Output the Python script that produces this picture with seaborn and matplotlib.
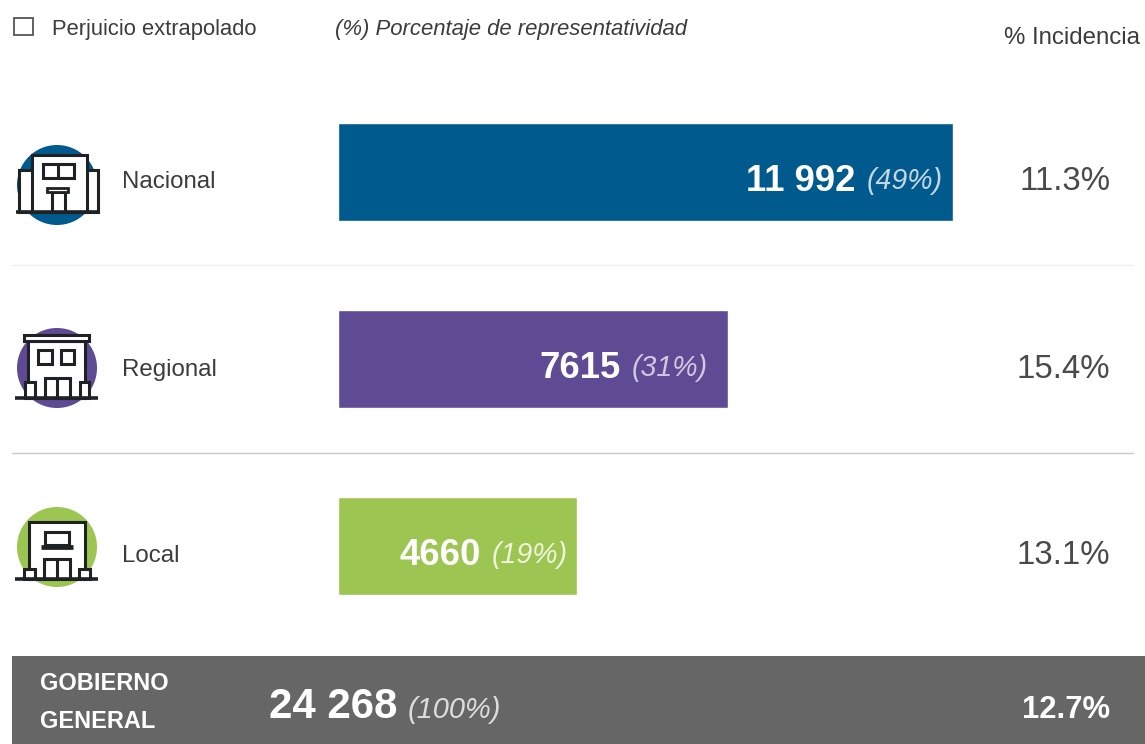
import pandas as pd
import matplotlib
matplotlib.use("Agg")
import matplotlib.pyplot as plt
from matplotlib.patches import Circle, Rectangle
import seaborn as sns

niveles = ["Nacional", "Regional", "Local"]
perjuicio = [11992, 7615, 4660]
perjuicio_txt = ["11 992", "7615", "4660"]
represent = ["(49%)", "(31%)", "(19%)"]
incidencia = ["11.3%", "15.4%", "13.1%"]
colores = ["#005A8E", "#5F4A94", "#9DC551"]
total_titulo = ["GOBIERNO", "GENERAL"]
total_txt = "24 268"
total_rep = "(100%)"
total_inc = "12.7%"

W, H = 1145, 744
NARROW = ["Liberation Sans", "DejaVu Sans"]
WIDE = ["Liberation Sans", "DejaVu Sans"]
GRIS = "#3c3c3c"
LINEA = "#1e2224"


def pt(px):
    return px * 0.72


def caja(ax, x0, y0, x1, y1, lw=2.2, fc="white", z=3):
    ax.add_patch(Rectangle((x0, y0), x1 - x0, y1 - y0, fc=fc, ec=LINEA, lw=lw, zorder=z))


def linea(ax, x0, y0, x1, y1, lw=2.2):
    ax.plot([x0, x1], [y0, y1], color=LINEA, lw=lw, zorder=5, solid_capstyle="butt")


def icono_nacional(ax):
    ax.add_patch(Circle((57, 185), 40, fc=colores[0], ec="none", zorder=1))
    caja(ax, 19, 170, 98, 212)
    caja(ax, 32, 155, 87, 212)
    caja(ax, 43, 164, 74, 178)
    linea(ax, 58, 164, 58, 178)
    caja(ax, 52, 192, 65, 212)
    caja(ax, 47, 188, 68, 192, lw=2)
    linea(ax, 16, 212, 100, 212, lw=2.6)


def icono_regional(ax):
    ax.add_patch(Circle((57, 368), 40, fc=colores[1], ec="none", zorder=1))
    caja(ax, 28, 341, 85, 398)
    caja(ax, 24, 335, 89, 341)
    caja(ax, 38, 350, 52, 364)
    caja(ax, 61, 350, 74, 364)
    caja(ax, 25, 382, 35, 398)
    caja(ax, 80, 382, 89, 398)
    caja(ax, 45, 378, 70, 398)
    linea(ax, 57, 378, 57, 398)
    linea(ax, 15, 398, 98, 398, lw=2.6)


def icono_local(ax):
    ax.add_patch(Circle((57, 547), 40, fc=colores[2], ec="none", zorder=1))
    caja(ax, 29, 522, 85, 579)
    caja(ax, 45, 532, 69, 545)
    linea(ax, 41, 547, 73, 547, lw=3.4)
    caja(ax, 24, 569, 35, 579)
    caja(ax, 79, 569, 90, 579)
    caja(ax, 44, 559, 70, 579)
    linea(ax, 57, 559, 57, 579)
    linea(ax, 15, 579, 98, 579, lw=2.6)


sns.set_theme(style="white")
plt.rcParams["font.family"] = WIDE

df = pd.DataFrame({"nivel": niveles, "perjuicio": perjuicio})

fig = plt.figure(figsize=(W / 100, H / 100), dpi=100, facecolor="white")

# las barras van en su propio eje, con la escala de la imagen
ax = fig.add_axes([337.5 / W, 0, (W - 337.5) / W, 1])
sns.barplot(data=df, x="perjuicio", y="nivel", hue="nivel", palette=colores,
            order=niveles, hue_order=niveles, width=98 / 187, legend=False,
            saturation=1, ax=ax)
ax.set_xlim(0, (W - 337.5) * 11992 / 615.5)
ax.set_ylim((H - 171.5) / 187, -171.5 / 187)
ax.set_axis_off()

# resto del dibujo en pixeles
ov = fig.add_axes([0, 0, 1, 1], facecolor="none")
ov.set_xlim(0, W)
ov.set_ylim(H, 0)
ov.set_axis_off()

# cabecera
ov.add_patch(Rectangle((14, 18), 19, 17, fc="white", ec="#555555", lw=1.3))
ov.text(52, 30, "Perjuicio extrapolado", family=NARROW, fontsize=pt(22), color=GRIS, va="center")
ov.text(335, 30, "(%) Porcentaje de representatividad", family=NARROW, fontsize=pt(22.2),
        style="italic", color=GRIS, va="center")
ov.text(1140, 38, "% Incidencia", family=NARROW, fontsize=pt(24), color=GRIS, va="center", ha="right")

# separadores
ov.plot([12, 1133], [265, 265], color="#efefef", lw=1)
ov.plot([12, 1133], [453, 453], color="#c9c9c9", lw=1)

icono_nacional(ov)
icono_regional(ov)
icono_local(ov)

filas_y = [178, 366, 552]
fin_valor = [856, 621, 481]
rep_col = ["#c5d6e4", "#cfc8e0", "#eef5dc"]
nombre_x = 122
for i, nivel in enumerate(niveles):
    y_bar = 171.5 + 187 * i
    ov.text(nombre_x, filas_y[i] + 4, nivel, family=NARROW, fontsize=pt(24), color=GRIS, va="center")
    ov.text(fin_valor[i], y_bar + 10, perjuicio_txt[i], family=WIDE, fontsize=pt(36.5), weight="bold",
            color="white", va="center", ha="right")
    ov.text(fin_valor[i] + 11, y_bar + 9.5, represent[i], family=WIDE, fontsize=pt(28.5), style="italic",
            color=rep_col[i], va="center")
    ov.text(1110, filas_y[i] + 3, incidencia[i], family=WIDE, fontsize=pt(33), color="#4a4a4a",
            va="center", ha="right")

# banda del total
ov.add_patch(Rectangle((12, 656), W - 12, 88, fc="#666666", ec="none"))
ov.text(40, 684, total_titulo[0], family=NARROW, fontsize=pt(23.5), weight="bold", color="white", va="center")
ov.text(40, 722, total_titulo[1], family=NARROW, fontsize=pt(23.5), weight="bold", color="white", va="center")
ov.text(269, 707, total_txt, family=WIDE, fontsize=pt(42), weight="bold", color="white", va="center")
ov.text(408, 710, total_rep, family=WIDE, fontsize=pt(29), style="italic", color="#dddddd", va="center")
ov.text(1110, 710, total_inc, family=WIDE, fontsize=pt(31), weight="bold", color="white", va="center", ha="right")

fig.savefig("out.png", dpi=100)
